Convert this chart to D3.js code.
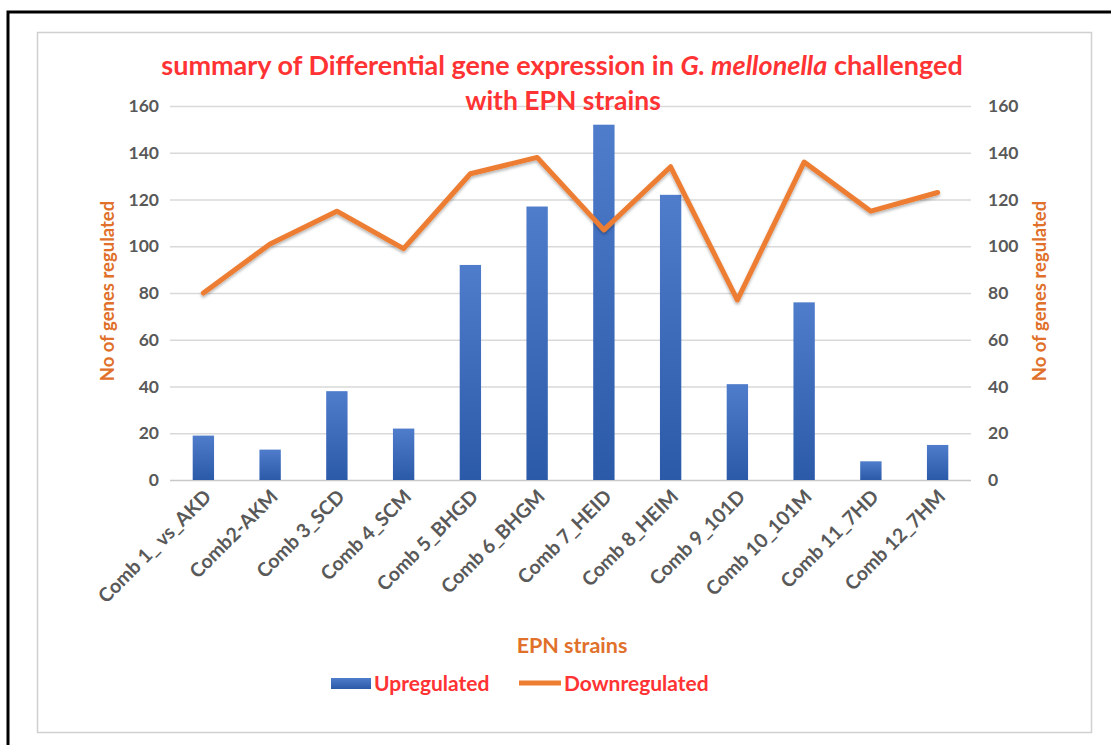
<!DOCTYPE html>
<html>
<head>
<meta charset="utf-8">
<script src="https://cdn.jsdelivr.net/npm/d3@7"></script>
<style>
  body { margin: 0; background: #fff; }
  svg text { font-family: Lato, "Open Sans", sans-serif; }
</style>
</head>
<body>
<div id="root"></div>
<script>
const categories = [
  "Comb 1_ vs_AKD", "Comb2-AKM", "Comb 3_SCD", "Comb 4_SCM", "Comb 5_BHGD",
  "Comb 6_BHGM", "Comb 7_HEID", "Comb 8_HEIM", "Comb 9_101D", "Comb 10_101M",
  "Comb 11_7HD", "Comb 12_7HM"
];
const upregulated = [19, 13, 38, 22, 92, 117, 152, 122, 41, 76, 8, 15];
const downregulated = [80, 101, 115, 99, 131, 138, 107, 134, 77, 136, 115, 123];
const yTicks = [0, 20, 40, 60, 80, 100, 120, 140, 160];

const width = 1111, height = 745;
const margins = { top: 106, right: 140, bottom: 265, left: 170 };
const gWidth = width - margins.left - margins.right;
const gHeight = height - margins.top - margins.bottom;

const svg = d3.select("#root").append("svg")
  .attr("width", width)
  .attr("height", height)
  .style("display", "block");

const defs = svg.append("defs");
const grad = defs.append("linearGradient")
  .attr("id", "barGrad").attr("x1", 0).attr("y1", 0).attr("x2", 0).attr("y2", 1);
grad.append("stop").attr("offset", "0%").attr("stop-color", "#4f7ccb");
grad.append("stop").attr("offset", "100%").attr("stop-color", "#2b5aa9");
const shadow = defs.append("filter").attr("id", "shadow")
  .attr("x", "-10%").attr("y", "-10%").attr("width", "120%").attr("height", "130%");
shadow.append("feDropShadow").attr("dx", 0).attr("dy", 2).attr("stdDeviation", 1.5)
  .attr("flood-color", "#000").attr("flood-opacity", 0.3);

// outer black frame (picture cropped on right/bottom) and chart box
svg.append("rect").attr("x", 8).attr("y", 12).attr("width", 1200).attr("height", 800)
  .attr("fill", "none").attr("stroke", "#000").attr("stroke-width", 3);
svg.append("rect").attr("x", 37.5).attr("y", 32.5).attr("width", 1054).attr("height", 700)
  .attr("fill", "#fff").attr("stroke", "#d0d0d0").attr("stroke-width", 1.5);

const xScale = d3.scaleBand().domain(categories).range([0, gWidth]).paddingInner(0.68).paddingOuter(0.34);
const yScale = d3.scaleLinear().domain([0, 160]).range([gHeight, 0]);

const g = svg.append("g").attr("transform", `translate(${margins.left}, ${margins.top})`);

// gridlines
g.append("g").attr("class", "grid")
  .call(d3.axisLeft(yScale).tickValues(yTicks).tickSize(-gWidth).tickFormat(""))
  .call(s => s.select(".domain").remove())
  .call(s => s.selectAll("line").attr("stroke", d => d === 0 ? "#c8c8c8" : "#d9d9d9").attr("stroke-width", 1.3));

const tickStyle = s => s.selectAll("text")
  .attr("fill", "#595959").attr("font-size", 17.5).attr("font-weight", 700)
  .style("font-family", "Lato, sans-serif");

// left axis labels
g.append("g")
  .call(d3.axisLeft(yScale).tickValues(yTicks).tickSize(0).tickPadding(11))
  .call(s => s.select(".domain").remove())
  .call(tickStyle);

// right axis labels
g.append("g").attr("transform", `translate(${gWidth}, 0)`)
  .call(d3.axisRight(yScale).tickValues(yTicks).tickSize(0).tickPadding(17))
  .call(s => s.select(".domain").remove())
  .call(tickStyle);

// bars
g.selectAll(".bar").data(upregulated).enter().append("rect")
  .attr("class", "bar")
  .attr("x", (d, i) => xScale(categories[i]))
  .attr("width", xScale.bandwidth())
  .attr("y", d => yScale(d))
  .attr("height", d => gHeight - yScale(d))
  .attr("fill", "url(#barGrad)");

// line
const line = d3.line()
  .x((d, i) => xScale(categories[i]) + xScale.bandwidth() / 2)
  .y(d => yScale(d));
g.append("path").datum(downregulated)
  .attr("d", line)
  .attr("fill", "none")
  .attr("stroke", "#ed7d31")
  .attr("stroke-width", 5)
  .attr("stroke-linejoin", "round")
  .attr("stroke-linecap", "round")
  .attr("filter", "url(#shadow)");

// x labels
const xAxis = g.append("g").attr("transform", `translate(0, ${gHeight})`)
  .call(d3.axisBottom(xScale).tickSize(0).tickPadding(0))
  .call(s => s.select(".domain").remove());
xAxis.selectAll("text")
  .attr("fill", "#595959").attr("font-size", 19.5).attr("font-weight", 700)
  .style("font-family", "Lato, sans-serif")
  .attr("text-anchor", "end")
  .attr("dy", 0)
  .attr("transform", "translate(9, 18) rotate(-45)");

// titles
const title = svg.append("text").attr("x", 562).attr("y", 75)
  .attr("text-anchor", "middle").attr("fill", "#ff3333")
  .attr("font-size", 27).attr("font-weight", 700);
title.append("tspan").text("summary of Differential gene expression in ");
title.append("tspan").attr("font-style", "italic").text("G. mellonella");
title.append("tspan").text("  challenged");
svg.append("text").attr("x", 563).attr("y", 110)
  .attr("text-anchor", "middle").attr("fill", "#ff3333")
  .attr("font-size", 26.5).attr("font-weight", 700)
  .text("with EPN strains");

svg.append("text")
  .attr("transform", `translate(114, ${margins.top + gHeight / 2 - 2}) rotate(-90)`)
  .attr("text-anchor", "middle").attr("fill", "#e0702a")
  .attr("font-size", 18.5).attr("font-weight", 700)
  .text("No of genes regulated");
svg.append("text")
  .attr("transform", `translate(1046, ${margins.top + gHeight / 2 - 2}) rotate(-90)`)
  .attr("text-anchor", "middle").attr("fill", "#e0702a")
  .attr("font-size", 18.5).attr("font-weight", 700)
  .text("No of genes regulated");

svg.append("text").attr("x", 572).attr("y", 653)
  .attr("text-anchor", "middle").attr("fill", "#e0702a")
  .attr("font-size", 21.5).attr("font-weight", 700)
  .text("EPN strains");

// legend
const legend = svg.append("g").attr("transform", "translate(331, 683)");
legend.append("rect").attr("x", 0).attr("y", -5).attr("width", 40).attr("height", 11).attr("fill", "url(#barGrad)");
legend.append("text").attr("x", 43).attr("y", 7.5).attr("fill", "#ff3333")
  .attr("font-size", 21).attr("font-weight", 700).text("Upregulated");
legend.append("line").attr("x1", 188).attr("x2", 230).attr("y1", 0).attr("y2", 0)
  .attr("stroke", "#ed7d31").attr("stroke-width", 5);
legend.append("text").attr("x", 233).attr("y", 7.5).attr("fill", "#ff3333")
  .attr("font-size", 21).attr("font-weight", 700).text("Downregulated");
</script>
</body>
</html>
